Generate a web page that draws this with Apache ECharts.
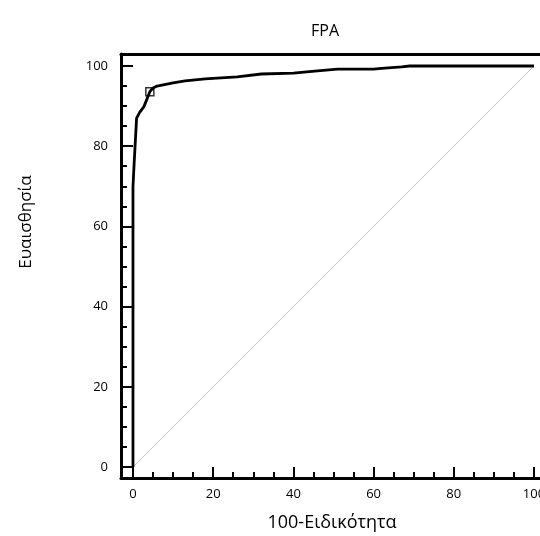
<!DOCTYPE html>
<html><head><meta charset="utf-8">
<script src="https://cdn.jsdelivr.net/npm/echarts@6/dist/echarts.min.js"></script>
<style>html,body{margin:0;padding:0;background:#fff}#c{width:540px;height:536px}</style>
</head><body><div id="c"></div>
<script>
const rocX = [0, 0, 0.3, 0.6, 0.9, 1.7, 2.7, 3.5, 4.2, 5.0, 6.0, 10, 13, 18, 26, 32, 40, 46, 51, 60, 62, 67, 69, 100];
const rocY = [0, 70, 76, 81.5, 87, 88.5, 89.8, 91.8, 93.6, 94.5, 95, 95.8, 96.3, 96.8, 97.3, 98, 98.2, 98.8, 99.2, 99.2, 99.4, 99.8, 100, 100];
const refX = [0, 100];
const refY = [0, 100];
const cutX = [4.2];
const cutY = [93.6];
const majorTicks = [0, 20, 40, 60, 80, 100];
const minorTicks = [5, 10, 15, 25, 30, 35, 45, 50, 55, 65, 70, 75, 85, 90, 95];
const titleText = 'FPA';
const xName = '100-Ειδικότητα';
const yName = 'Ευαισθησία';

const FONT = '"Open Sans", "Noto Sans", sans-serif';
const chart = echarts.init(document.getElementById('c'));
const zip = (a, b) => a.map((v, i) => [v, b[i]]);
const XMIN = -2.99, XMAX = 101.5, YMIN = -2.74, YMAX = 102.99;

function xAx(main) {
  return {
    type: 'value', min: XMIN, max: XMAX, position: 'bottom',
    axisLine: { show: main, onZero: false, lineStyle: { color: '#000', width: 3 } },
    axisTick: { show: true, inside: true, length: main ? 11 : 6, lineStyle: { color: '#000', width: 2 },
      customValues: main ? majorTicks : minorTicks },
    axisLabel: { show: main, customValues: majorTicks, margin: 10, color: '#000', fontSize: 13, fontFamily: FONT },
    splitLine: { show: false }
  };
}
function yAx(main) {
  return {
    type: 'value', min: YMIN, max: YMAX, position: 'left',
    axisLine: { show: main, onZero: false, lineStyle: { color: '#000', width: 3 } },
    axisTick: { show: true, inside: true, length: main ? 12 : 6, lineStyle: { color: '#000', width: 2 },
      customValues: main ? majorTicks : minorTicks },
    axisLabel: { show: main, customValues: majorTicks, margin: 13, color: '#000', fontSize: 13, fontFamily: FONT },
    splitLine: { show: false }
  };
}
const topAx = {
  type: 'value', min: XMIN, max: XMAX, position: 'top',
  axisLine: { show: true, onZero: false, lineStyle: { color: '#000', width: 3 } },
  axisTick: { show: false }, axisLabel: { show: false }, splitLine: { show: false }
};

chart.setOption({
  animation: false,
  backgroundColor: '#fff',
  title: { text: titleText, left: 320, top: 18, textAlign: 'center',
    textStyle: { fontFamily: FONT, fontSize: 16, fontWeight: 'normal', color: '#000' } },
  grid: { left: 121, right: 0, top: 54, bottom: 58, containLabel: false, outerBoundsMode: 'none' },
  xAxis: [xAx(true), xAx(false), topAx],
  yAxis: [yAx(true), yAx(false)],
  graphic: [
    { type: 'text', x: 332, y: 523,
      style: { text: xName, align: 'center', verticalAlign: 'middle', fontFamily: FONT, fontSize: 18, fill: '#000' } },
    { type: 'text', rotation: Math.PI / 2, x: 26, y: 222,
      style: { text: yName, align: 'center', verticalAlign: 'middle', fontFamily: FONT, fontSize: 17, fill: '#000' } }
  ],
  series: [
    { type: 'line', data: zip(refX, refY), symbol: 'none', silent: true,
      lineStyle: { color: '#b5b5b5', width: 0.8 } },
    { type: 'line', data: zip(rocX, rocY), symbol: 'none', silent: true,
      lineStyle: { color: '#000', width: 2.8 } },
    { type: 'scatter', data: zip(cutX, cutY), symbol: 'rect', symbolSize: 8, silent: true,
      itemStyle: { color: '#fff', borderColor: '#000', borderWidth: 1.5 } }
  ]
});
</script>
</body></html>
